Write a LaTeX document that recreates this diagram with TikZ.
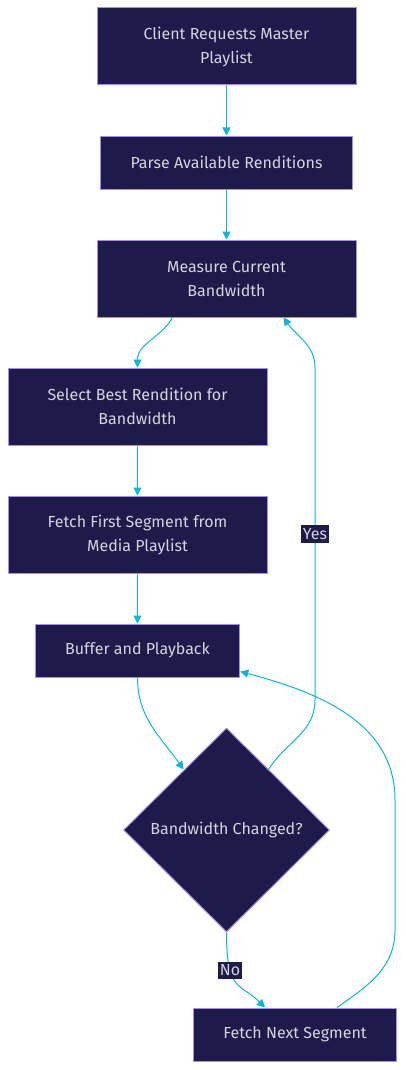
\documentclass[tikz,border=0pt]{standalone}
\usepackage{fontspec}
\setmainfont{Fira Sans}
\usetikzlibrary{positioning, arrows.meta, shapes.geometric}
\definecolor{boxfill}{HTML}{1E1B4B}
\definecolor{boxline}{HTML}{A78BFA}
\definecolor{boxtext}{HTML}{D4D4DC}
\definecolor{linkcol}{HTML}{0CB4D6}
\tikzset{
    generic_node/.style={rectangle, fill=boxfill, draw=boxline, line width=1pt, text=boxtext, minimum height=53pt, inner xsep=30pt, text centered, align=center, font=\fontsize{16}{24}\selectfont},
    two_line/.style={generic_node, minimum width=259pt, minimum height=77pt},
    decision/.style={diamond, fill=boxfill, draw=boxline, line width=1pt, text=boxtext, minimum width=206pt, minimum height=204pt, inner sep=0pt, font=\fontsize{16}{24}\selectfont},
    arrow/.style={draw=linkcol, line width=1pt, -{Triangle[length=8pt, width=8pt]}},
    edge_label/.style={fill=boxfill, text=boxtext, inner xsep=1.5pt, inner ysep=3pt, font=\fontsize{16}{18}\selectfont},
}
\begin{document}
\begin{tikzpicture}[node distance=50pt, x=1pt, y=1pt]
      \useasboundingbox (0,0) rectangle (405,-1070);
      %%%%%%%%%%%%%%%%
      % Main flow    %
      %%%%%%%%%%%%%%%%
      \node (request) [two_line] at (226.5,-46.5)
          {Client Requests Master\\Playlist};
      \node (parse) [generic_node, below = of request]
          {Parse Available Renditions};
      \node (measure) [two_line, below = of parse]
          {Measure Current\\Bandwidth};
      \node (select) [two_line, below = of measure, xshift=-89pt]
          {Select Best Rendition for\\Bandwidth};
      \node (fetchfirst) [two_line, below = of select]
          {Fetch First Segment from\\Media Playlist};
      \node (buffer) [generic_node, below = of fetchfirst]
          {Buffer and Playback};
      \node (changed) [decision, below = of buffer, xshift=89pt]
          {Bandwidth Changed?};
      \node (fetchnext) [generic_node, below = 75pt of changed, xshift=68.5pt]
          {Fetch Next Segment};

      \draw [arrow] (request) -- (parse);
      \draw [arrow] (parse) -- (measure);
      \draw [arrow] ([xshift=-54pt]measure.south) to[out=-120, in=90] (select.north);
      \draw [arrow] (select) -- (fetchfirst);
      \draw [arrow] (fetchfirst) -- (buffer);
      \draw [arrow] (buffer.south) to[out=-90, in=125] ([xshift=-43pt, yshift=-42pt]changed.north);

      % decision branches
      \draw [arrow] ([xshift=42pt, yshift=-42pt]changed.north) to[out=58, in=-90] (315,-700)
          -- node[edge_label] {Yes} (315,-368)
          to[out=90, in=-55] ([xshift=57pt]measure.south);
      \draw [arrow] (changed.south) .. controls +(0,-60) and +(-25,25) .. node[edge_label, pos=0.3] {No}
          ([xshift=-30pt]fetchnext.north);
      \draw [arrow] ([xshift=42pt]fetchnext.north) to[out=35, in=-90] (395,-930)
          -- (395,-800)
          to[out=90, in=-15] ([yshift=-21pt]buffer.east);
\end{tikzpicture}
\end{document}
